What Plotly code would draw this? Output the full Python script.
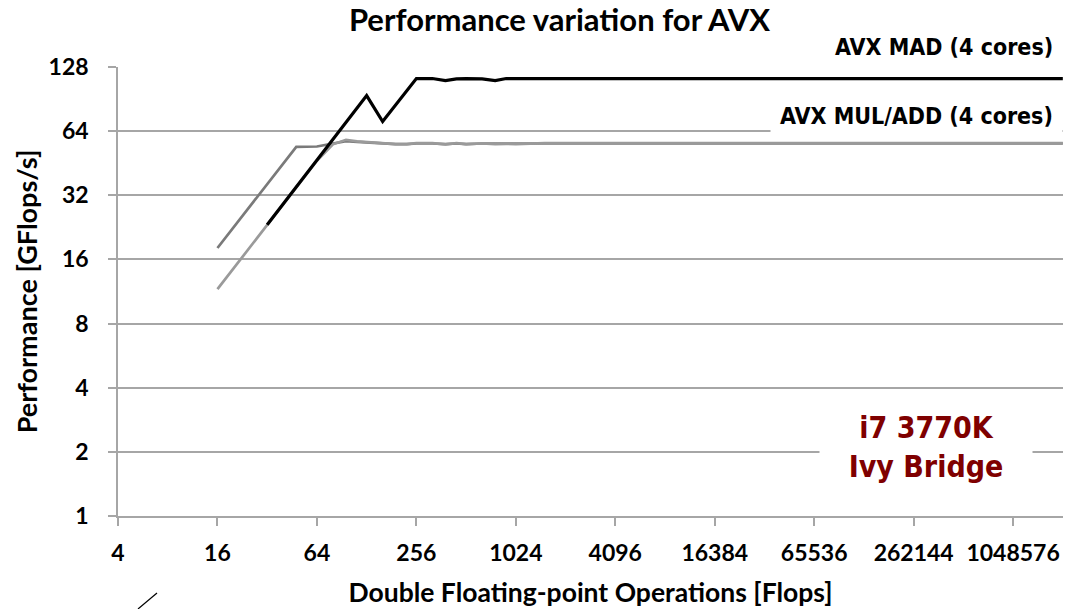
import plotly.graph_objects as go
import math

# ---- data ----
flops = [16, 32, 48, 64, 80, 96, 112, 128, 160, 192, 224, 256, 320, 384, 448,
         512, 640, 768, 896, 1024, 1536, 2048, 3072, 4096, 8192, 16384, 32768,
         65536, 131072, 262144, 524288, 1048576, 2097152]

avx_mad = [None, 23.3, 35.0, 46.7, 58.4, 70.0, 82.0, 94.0, 71.0, 85.0, 99.0, 113.0,
           113.0, 110.5, 112.5, 113.0, 112.5, 110.5, 113.0, 113.0, 113.0, 113.0,
           113.0, 113.0, 113.0, 113.0, 113.0, 113.0, 113.0, 113.0, 113.0, 113.0, 113.0]

avx_mul = [18.1, 36.2, 54.0, 54.2, 56.0, 57.5, 57.0, 56.6, 56.0, 55.6, 55.6, 56.0,
           56.0, 55.6, 56.0, 55.6, 56.0, 55.8, 56.0, 56.0, 56.0, 56.0, 56.0, 56.0,
           56.0, 56.0, 56.0, 56.0, 56.0, 56.0, 56.0, 56.0, 56.0]

avx_add = [11.6, 23.3, 35.0, 46.5, 55.5, 58.3, 57.3, 56.8, 56.2, 55.6, 55.6, 56.2,
           56.2, 55.5, 56.2, 55.6, 56.0, 55.6, 55.8, 55.6, 56.2, 56.2, 56.2, 56.2,
           56.2, 56.2, 56.2, 56.2, 56.2, 56.2, 56.2, 56.2, 56.2]

x_ticks = [4, 16, 64, 256, 1024, 4096, 16384, 65536, 262144, 1048576]
y_ticks = [1, 2, 4, 8, 16, 32, 64, 128]

title_text = "Performance variation for AVX"
x_title = "Double Floating-point Operations [Flops]"
y_title = "Performance [GFlops/s]"
label_mad = "AVX MAD (4 cores)"
label_muladd = "AVX MUL/ADD (4 cores)"
label_cpu = "i7 3770K<br>Ivy Bridge"

FONT = "Lato, Open Sans, sans-serif"
NARROW = "Liberation Sans Narrow, DejaVu Sans Condensed, Arial Narrow, sans-serif"
GRID = "#a6a6a6"


def b(s):
    return "<b>" + s.replace("<br>", "</b><br><b>") + "</b>"


fig = go.Figure()
fig.add_trace(go.Scatter(x=flops, y=avx_mul, mode="lines", name="AVX MUL (4 cores)",
                         line=dict(color="#7a7a7a", width=2.7), showlegend=False))
fig.add_trace(go.Scatter(x=flops, y=avx_add, mode="lines", name="AVX ADD (4 cores)",
                         line=dict(color="#9a9a9a", width=2.7), showlegend=False))
fig.add_trace(go.Scatter(x=flops, y=avx_mad, mode="lines", name=label_mad,
                         line=dict(color="#000000", width=3.2), showlegend=False))

fig.update_layout(
    width=1077, height=609,
    margin=dict(l=118, r=14, t=67, b=93, autoexpand=False),
    paper_bgcolor="white", plot_bgcolor="white",
    font=dict(family=FONT, color="black"),
    title=dict(text=b(title_text), x=(559.5 - 118) / 945, xref="paper", xanchor="center",
               y=1 - 20 / 609, yref="container", yanchor="middle",
               font=dict(family=FONT, size=31, color="black")),
)

fig.update_xaxes(
    type="log", range=[math.log10(4), math.log10(2097152) + 0.001],
    tickvals=x_ticks, ticktext=[b(str(v)) for v in x_ticks],
    showgrid=False, zeroline=False, automargin=False,
    showline=True, linecolor=GRID, linewidth=1.5,
    ticks="outside", ticklen=8, tickwidth=1.5, tickcolor=GRID,
    tickfont=dict(family=FONT, size=23, color="black"),
    ticklabelstandoff=8,
    title=dict(text=b(x_title), standoff=18,
               font=dict(family=FONT, size=26.5, color="black")),
)
fig.update_yaxes(
    type="log", range=[0, math.log10(128)],
    tickvals=y_ticks, ticktext=[b(str(v)) for v in y_ticks],
    showgrid=True, gridcolor=GRID, gridwidth=1.5, automargin=False,
    zeroline=False, showline=True, linecolor=GRID, linewidth=1.5,
    ticks="outside", ticklen=8, tickwidth=1.5, tickcolor=GRID,
    tickfont=dict(family=FONT, size=23, color="black"),
    ticklabelstandoff=15,
    title=dict(text=b(y_title), standoff=3,
               font=dict(family=FONT, size=27, color="black")),
)

# labels with white boxes (hide gridline behind them)
fig.add_annotation(text=b(label_mad), xref="paper", yref="paper",
                   x=1.0, y=(516 - 47) / 449, xanchor="right", yanchor="middle",
                   showarrow=False, bgcolor="white", borderpad=9,
                   font=dict(family=NARROW, size=23, color="black"))
fig.add_annotation(text=b(label_muladd), xref="paper", yref="paper",
                   x=1.0, y=(516 - 116) / 449, xanchor="right", yanchor="middle",
                   showarrow=False, bgcolor="white", borderpad=9,
                   font=dict(family=NARROW, size=23, color="black"))
fig.add_annotation(text=b(label_cpu), xref="paper", yref="paper",
                   x=(926 - 118) / 945, y=(516 - 447) / 449, xanchor="center", yanchor="middle",
                   showarrow=False, bgcolor="white", width=212, borderpad=0,
                   font=dict(family=NARROW, size=30, color="#7f0000"))

# small stray stroke at bottom-left of the original
fig.add_shape(type="line", xref="paper", yref="paper",
              x0=(138 - 118) / 945, y0=(516 - 609) / 449,
              x1=(157 - 118) / 945, y1=(516 - 593) / 449,
              line=dict(color="black", width=1.2))

fig.write_html("out.html")
